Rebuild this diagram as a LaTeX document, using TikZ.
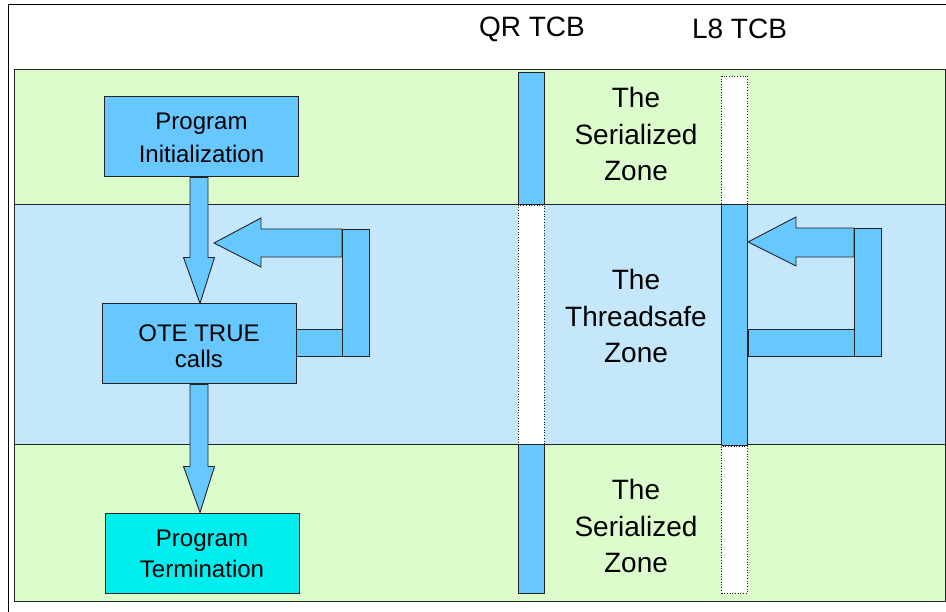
\documentclass[tikz,border=0pt]{standalone}
\usepackage{fontspec}
\setmainfont{Liberation Sans}
\usetikzlibrary{calc}
\definecolor{zonegreen}{RGB}{221,252,204}
\definecolor{zoneblue}{RGB}{196,231,252}
\definecolor{stepblue}{RGB}{102,200,255}
\definecolor{endcyan}{RGB}{0,238,238}
\definecolor{edge}{RGB}{35,35,35}

\begin{document}
\begin{tikzpicture}[x=1pt,y=-1pt,
  band/.style={draw=edge, line width=1pt},
  box/.style={draw=edge, line width=1pt, fill=stepblue, minimum width=194pt,
    minimum height=80pt, align=center, inner sep=0pt},
  flow/.style={draw=edge, line width=0.9pt, fill=stepblue, line join=miter},
  seg/.style={draw=edge, line width=1pt, fill=stepblue, minimum width=26pt, inner sep=0pt},
  gap/.style={draw=edge, line width=0.7pt, dotted, fill=white, minimum width=26pt, inner sep=0pt},
  zone/.style={align=center, inner sep=0pt, font=\fontsize{28}{36.7}\selectfont},
  head/.style={inner sep=0pt, font=\fontsize{28}{34}\selectfont}]

\useasboundingbox (0,0) rectangle (946,612);
\fill[white] (0,0) rectangle (946,612);

% outer frame (runs on past the right and bottom edges)
\draw[line width=1.1pt, black] (950,4.5) -- (8.5,4.5) -- (8.5,616);

% zones
\draw[band, fill=zonegreen] (14,70) rectangle (945,205);
\draw[band, fill=zoneblue]  (14,205) rectangle (945,445);
\draw[band, fill=zonegreen] (14,445) rectangle (945,601);

% column headings
\node[head] (qrlabel) at (532,29) {QR TCB};
\node[head] (l8label) at (739.5,29) {L8 TCB};

% QR TCB column
\node[seg, minimum height=132pt] (qrtop) at (531,139) {};
\node[gap, minimum height=240pt] (qrmid) at (531,325) {};
\node[seg, minimum height=148pt] (qrbot) at (531,519) {};

% L8 TCB column
\node[gap, minimum height=129pt] (l8top) at (734.5,140.5) {};
\node[seg, minimum height=241pt] (l8mid) at (734.5,325.5) {};
\node[gap, minimum height=147pt] (l8bot) at (734.5,519.5) {};

% zone captions
\node[zone] (zonetop) at (636,134) {The\\Serialized\\Zone};
\node[zone] (zonemid) at (636,316) {The\\Threadsafe\\Zone};
\node[zone] (zonebot) at (636,526) {The\\Serialized\\Zone};

% program flow boxes
\node[box, font=\fontsize{24}{33}\selectfont] (init) at (201.5,137)
  {\rule{0pt}{19pt}Program\\Initialization};
\node[box, font=\fontsize{24}{26.5}\selectfont] (ote) at (199,344)
  {\rule{0pt}{21.5pt}OTE TRUE\\calls};
\node[box, fill=endcyan, font=\fontsize{24}{31}\selectfont] (term) at (202,553)
  {\rule{0pt}{19pt}Program\\Termination};

% block arrows between the boxes
\draw[flow] let \p1=(init.south), \p2=(ote.north) in
  (\x2-9pt,\y1) -- (\x2+9pt,\y1) -- (\x2+9pt,\y2+46pt) -- (\x2+15.5pt,\y2+46pt)
  -- (\x2+1pt,\y2) -- (\x2-15.5pt,\y2+46pt) -- (\x2-9pt,\y2+46pt) -- cycle;
\draw[flow] let \p1=(ote.south), \p2=(term.north) in
  (\x1-9pt,\y1) -- (\x1+9pt,\y1) -- (\x1+9pt,\y2+46pt) -- (\x1+15.5pt,\y2+46pt)
  -- (\x1+1pt,\y2) -- (\x1-15.5pt,\y2+46pt) -- (\x1-9pt,\y2+46pt) -- cycle;

% loop back on the OTE calls
\coordinate (ltip) at (214,243);
\draw[flow] (ote.east |- 0,329) rectangle (342,356);
\draw[flow] (342,229) -- (261,229) -- (261,218) -- (ltip) -- (261,267)
  -- (261,257) -- (342,257) -- cycle;
\draw[flow] (342,229) rectangle (369,356);

% loop back on the L8 TCB
\draw[flow] (l8mid.east |- 0,329) rectangle (854,356);
\draw[flow] (854,228) -- (796,228) -- (796,217) -- (l8mid.east |- 0,242)
  -- (796,266) -- (796,257) -- (854,257) -- cycle;
\draw[flow] (854,228) rectangle (881,356);

\end{tikzpicture}
\end{document}
